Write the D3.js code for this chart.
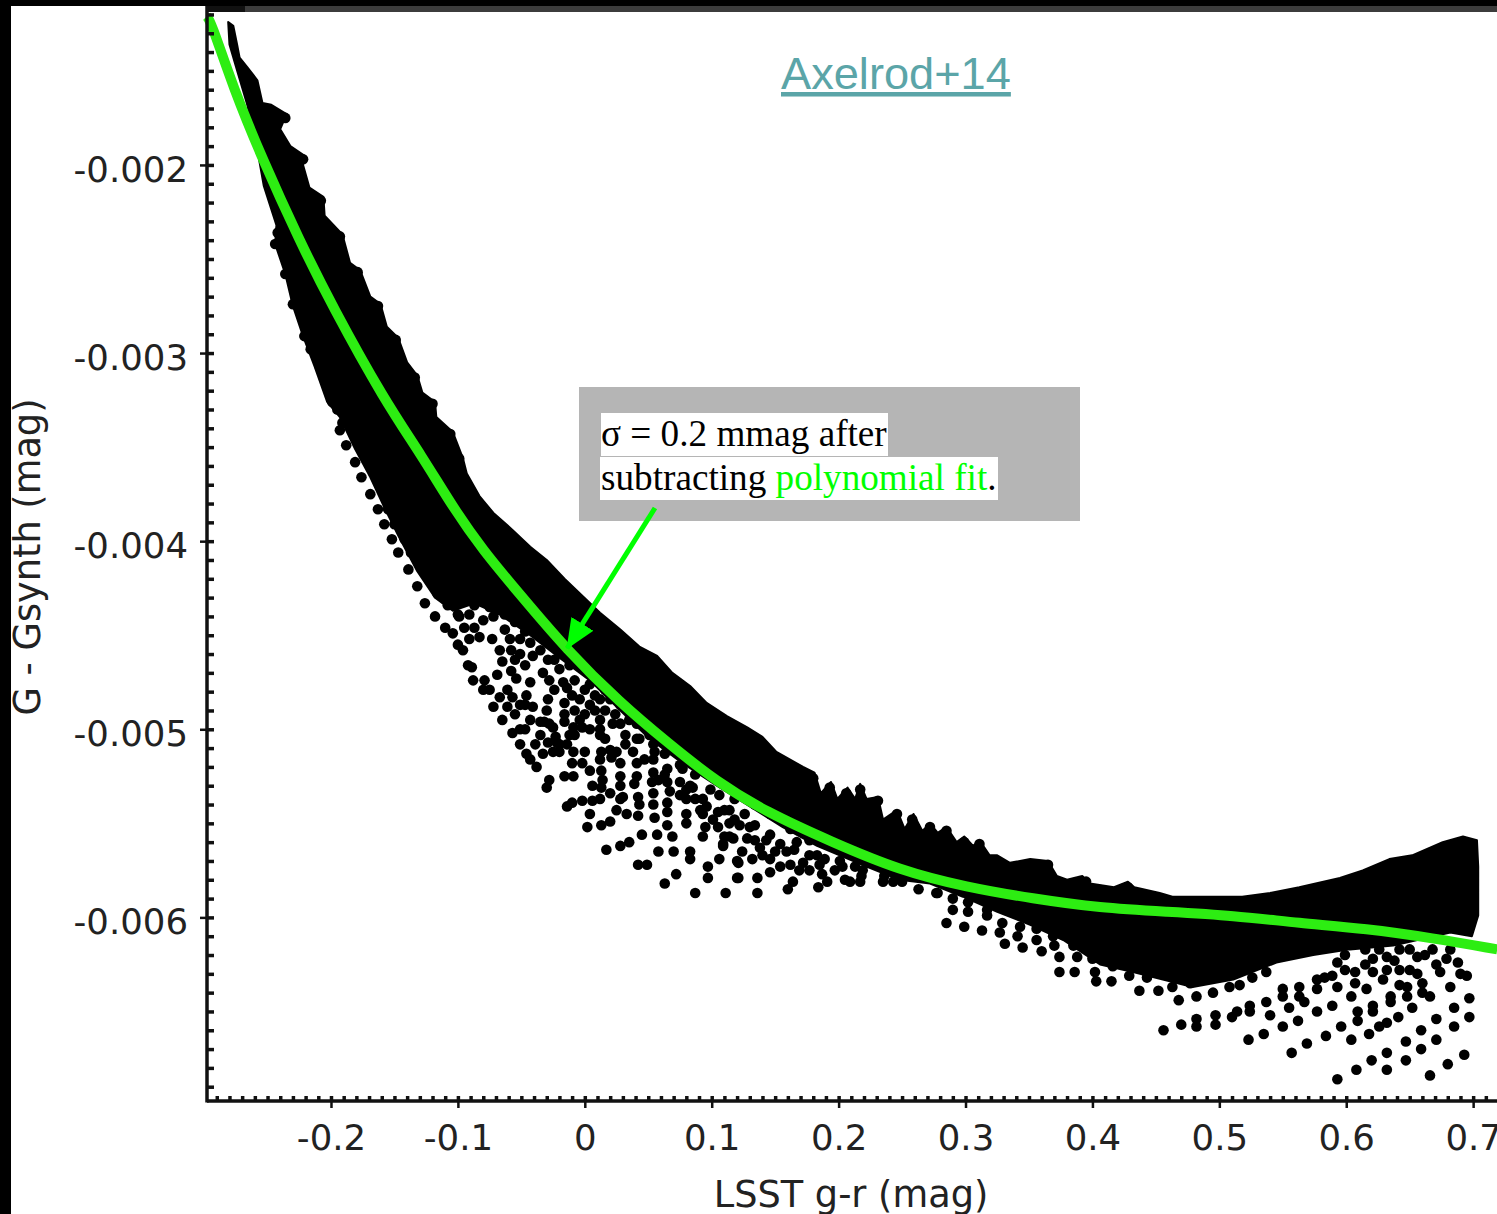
<!DOCTYPE html>
<html>
<head>
<meta charset="utf-8">
<script src="https://cdn.jsdelivr.net/npm/d3@7"></script>
<style>
    html, body { margin: 0; padding: 0; background: #fff; overflow: hidden; }
    svg { display: block; }
    .axis-text { font-family: "DejaVu Sans"; fill: #222; }
    .note { font-family: "Liberation Serif"; font-size: 37.2px; fill: #000; }
</style>
</head>
<body>
<div id="chart"></div>
<script>
// tick values (g-r in mag, residual in mmag so the label is the value / 1000)
const xTicks = [-0.2, -0.1, 0, 0.1, 0.2, 0.3, 0.4, 0.5, 0.6, 0.7];
const xTickLabels = ["-0.2", "-0.1", "0", "0.1", "0.2", "0.3", "0.4", "0.5", "0.6", "0.7"];
const yTicks = [-2, -3, -4, -5, -6];
const yTickLabels = ["-0.002", "-0.003", "-0.004", "-0.005", "-0.006"];

// polynomial fit: [g-r, G-Gsynth mmag]
const fitCurve = [[-0.298,-1.21],[-0.295,-1.23],[-0.277,-1.59],[-0.254,-1.97],[-0.225,-2.40],[-0.199,-2.75],[-0.158,-3.25],[-0.128,-3.55],[-0.104,-3.82],[-0.080,-4.05],[-0.054,-4.26],[-0.014,-4.58],[0.028,-4.86],[0.065,-5.07],[0.104,-5.28],[0.143,-5.44],[0.195,-5.60],[0.248,-5.75],[0.301,-5.84],[0.353,-5.90],[0.406,-5.95],[0.459,-5.97],[0.511,-5.99],[0.563,-6.03],[0.616,-6.06],[0.668,-6.11],[0.719,-6.17]];

// outline of the part of the cloud where stars merge into solid black
const denseUpper = [[-0.281,-1.24],[-0.277,-1.26],[-0.274,-1.36],[-0.272,-1.43],[-0.266,-1.48],[-0.258,-1.55],[-0.254,-1.67],[-0.247,-1.68],[-0.235,-1.73],[-0.240,-1.81],[-0.232,-1.90],[-0.221,-1.95],[-0.222,-2.00],[-0.217,-2.12],[-0.206,-2.17],[-0.205,-2.27],[-0.191,-2.37],[-0.185,-2.52],[-0.177,-2.56],[-0.169,-2.70],[-0.161,-2.74],[-0.156,-2.86],[-0.147,-2.92],[-0.140,-3.05],[-0.132,-3.12],[-0.128,-3.21],[-0.118,-3.26],[-0.117,-3.34],[-0.104,-3.42],[-0.096,-3.56],[-0.093,-3.64],[-0.083,-3.76],[-0.072,-3.85],[-0.057,-3.94],[-0.043,-4.03],[-0.030,-4.10],[-0.016,-4.20],[-0.002,-4.29],[0.012,-4.38],[0.028,-4.47],[0.043,-4.56],[0.057,-4.61],[0.069,-4.70],[0.083,-4.77],[0.096,-4.86],[0.112,-4.93],[0.128,-4.99],[0.140,-5.04],[0.151,-5.12],[0.172,-5.20],[0.181,-5.23],[0.186,-5.34],[0.194,-5.28],[0.199,-5.37],[0.207,-5.31],[0.213,-5.37],[0.217,-5.29],[0.222,-5.37],[0.231,-5.36],[0.235,-5.48],[0.246,-5.43],[0.252,-5.53],[0.259,-5.45],[0.266,-5.54],[0.272,-5.50],[0.278,-5.55],[0.285,-5.52],[0.293,-5.60],[0.299,-5.57],[0.306,-5.62],[0.311,-5.59],[0.319,-5.67],[0.325,-5.67],[0.335,-5.71],[0.351,-5.69],[0.365,-5.70],[0.372,-5.78],[0.380,-5.80],[0.392,-5.78],[0.398,-5.82],[0.417,-5.84],[0.428,-5.81],[0.433,-5.84],[0.453,-5.87],[0.463,-5.89],[0.518,-5.89],[0.540,-5.87],[0.563,-5.84],[0.595,-5.79],[0.613,-5.75],[0.634,-5.69],[0.652,-5.67],[0.676,-5.60],[0.692,-5.57],[0.703,-5.59],[0.704,-5.73],[0.704,-5.99],[0.699,-6.10]];
const denseLower = [[0.682,-6.08],[0.637,-6.15],[0.603,-6.17],[0.574,-6.20],[0.545,-6.24],[0.511,-6.33],[0.479,-6.37],[0.432,-6.29],[0.406,-6.25],[0.377,-6.12],[0.351,-6.04],[0.325,-5.97],[0.298,-5.89],[0.272,-5.82],[0.248,-5.80],[0.222,-5.73],[0.183,-5.62],[0.156,-5.52],[0.130,-5.41],[0.104,-5.30],[0.077,-5.18],[0.051,-5.05],[0.028,-4.90],[0.004,-4.74],[-0.020,-4.62],[-0.043,-4.50],[-0.067,-4.39],[-0.087,-4.33],[-0.104,-4.37],[-0.118,-4.30],[-0.132,-4.16],[-0.147,-3.97],[-0.158,-3.82],[-0.169,-3.66],[-0.181,-3.51],[-0.193,-3.34],[-0.203,-3.26],[-0.213,-3.07],[-0.222,-2.91],[-0.230,-2.75],[-0.236,-2.58],[-0.244,-2.42],[-0.243,-2.32],[-0.253,-2.11],[-0.258,-1.92],[-0.266,-1.68],[-0.273,-1.52],[-0.280,-1.36]];

// single stars that can still be told apart
const edgeNubs = [[-0.236,-1.75],[-0.222,-1.97],[-0.208,-2.19],[-0.193,-2.38],[-0.179,-2.57],[-0.163,-2.75],[-0.149,-2.93],[-0.134,-3.13],[-0.120,-3.27],[-0.106,-3.43],[-0.099,-3.56],[0.180,-5.26],[0.193,-5.31],[0.206,-5.34],[0.217,-5.32],[0.231,-5.38],[0.246,-5.45],[0.258,-5.48],[0.272,-5.52],[0.285,-5.54],[0.299,-5.60],[0.311,-5.61],[0.365,-5.72],[0.395,-5.81],[0.428,-5.84]];
const edgeStars = [[-0.244,-2.42],[-0.242,-2.36],[-0.236,-2.58],[-0.232,-2.52],[-0.230,-2.74],[-0.221,-2.91],[-0.216,-2.98],[-0.209,-3.07],[-0.199,-3.26],[-0.195,-3.30],[-0.191,-3.37],[-0.193,-3.41],[-0.188,-3.49],[-0.181,-3.58],[-0.176,-3.66],[-0.169,-3.75],[-0.163,-3.83],[-0.158,-3.91],[-0.152,-3.99],[-0.147,-4.06],[-0.139,-4.15],[-0.132,-4.24],[-0.126,-4.33],[-0.118,-4.40],[-0.110,-4.46],[-0.104,-4.49],[-0.100,-4.55],[-0.096,-4.58],[-0.092,-4.66],[-0.088,-4.74],[-0.080,-4.79],[-0.072,-4.88],[-0.065,-4.95],[-0.057,-5.02],[-0.051,-5.08],[-0.043,-5.16],[-0.038,-5.20],[-0.137,-4.06],[-0.129,-4.11],[-0.122,-4.19],[-0.116,-4.28],[-0.108,-4.34],[-0.100,-4.39],[-0.091,-4.39],[-0.142,-3.99],[-0.150,-3.91],[-0.155,-3.83]];
const latticeStars = [[-0.099,-4.40],[-0.080,-4.42],[-0.072,-4.40],[-0.063,-4.47],[-0.059,-4.52],[-0.091,-4.52],[-0.083,-4.51],[-0.073,-4.52],[-0.067,-4.58],[-0.065,-4.64],[-0.069,-4.71],[-0.079,-4.74],[-0.089,-4.67],[-0.054,-4.73],[-0.043,-4.75],[-0.057,-4.83],[-0.046,-4.82],[-0.041,-4.88],[-0.030,-4.90],[-0.035,-4.96],[-0.025,-4.99],[-0.016,-4.86],[-0.014,-4.78],[-0.028,-4.74],[-0.033,-4.70],[-0.041,-4.61],[-0.043,-4.54],[-0.051,-4.60],[-0.047,-4.66],[-0.035,-4.58],[-0.024,-4.63],[-0.020,-4.68],[-0.008,-4.74],[-0.004,-4.84],[0.004,-4.87],[-0.004,-4.95],[-0.012,-5.03],[0.004,-5.00],[0.012,-4.95],[0.016,-5.05],[-0.020,-5.08],[0.021,-5.15],[0.032,-5.08],[0.043,-5.05],[0.055,-5.12],[0.016,-4.90],[0.028,-4.97],[0.041,-4.97]];
const latticeStars2 = [[-0.110,-4.31],[-0.102,-4.34],[-0.087,-4.34],[-0.075,-4.35],[-0.063,-4.39],[-0.055,-4.43],[-0.047,-4.48],[-0.051,-4.52],[-0.058,-4.58],[-0.087,-4.46],[-0.095,-4.46],[-0.075,-4.79],[-0.067,-4.83],[-0.061,-4.79],[-0.051,-4.87],[-0.055,-4.92],[-0.043,-4.95],[-0.047,-5.00],[-0.035,-5.03],[-0.039,-5.08],[-0.029,-5.07],[-0.033,-5.13],[-0.023,-5.04],[-0.016,-4.96],[-0.008,-4.90],[0,-4.79],[0.008,-4.82],[0.016,-4.79],[0.012,-4.74],[0.004,-4.66],[-0.004,-4.60],[-0.012,-4.58],[-0.020,-4.52],[-0.028,-4.48],[-0.035,-4.44],[-0.029,-4.84],[-0.024,-4.79],[-0.016,-4.92],[0.008,-4.90],[0.024,-4.92],[0.020,-4.84],[0.032,-4.87],[0.039,-4.91],[0.051,-5.03],[0.063,-5.13],[0.075,-5.19],[0.087,-5.24],[0.099,-5.32],[0.106,-5.35],[0.118,-5.37],[0.126,-5.45],[0.134,-5.51],[0.146,-5.56],[0.154,-5.61],[0.165,-5.64],[0.177,-5.67],[0.189,-5.69],[0.201,-5.70],[0.213,-5.73],[0.041,-5.05],[0.054,-5.08],[0.054,-5.16],[0.065,-5.21],[0.065,-5.28],[0.080,-5.32],[0.080,-5.37],[0.093,-5.37],[0.093,-5.45],[0.105,-5.44],[0.105,-5.52],[0.118,-5.48],[0.128,-5.58],[0.138,-5.63],[0.150,-5.65],[0.054,-5.40],[0.065,-5.51],[0.028,-5.37],[0.043,-5.40],[0.012,-5.37],[0.004,-5.45]];
const latticeStars3 = [[-0.055,-4.63],[-0.058,-4.69],[-0.061,-4.88],[-0.047,-4.87],[-0.046,-5.13],[-0.051,-5.00],[-0.032,-4.96],[-0.029,-4.63],[-0.012,-4.66],[-0.010,-4.82],[-0.017,-4.75],[0,-4.92],[-0.008,-5.03],[0.012,-5.03],[0.020,-5.11],[0.032,-5.03],[0.035,-4.95],[0.047,-4.95],[0.059,-5.03],[0.067,-5.11],[0.047,-5.16],[0.012,-4.84],[0.004,-4.76],[0.024,-4.79],[0.028,-4.87],[0.043,-4.87],[0.051,-4.95],[0.063,-4.97],[0.075,-5.05],[0.087,-5.13],[0.099,-5.19],[0.106,-5.27],[0.122,-5.32],[0.134,-5.40],[0.146,-5.45],[0.162,-5.53],[0.177,-5.59],[0.012,-5.16],[0.058,-5.27],[0.075,-5.35],[0.087,-5.37],[0.110,-5.43],[0.122,-5.51],[0.134,-5.59],[0.146,-5.69],[0.162,-5.72],[0.185,-5.72],[0.205,-5.80]];
const lowerLeftStars = [[-0.028,-4.97],[-0.009,-4.99],[-0.002,-4.99],[0.022,-4.97],[-0.022,-5.07],[-0.014,-5.08],[-0.025,-5.12],[-0.020,-5.12],[-0.009,-5.12],[0.012,-5.00],[0.013,-5.12],[0.025,-5.12],[0.038,-5.12],[0,-5.12],[-0.010,-5.18],[-0.002,-5.18],[0.004,-5.22],[0.013,-5.22],[0.014,-5.27],[0.028,-5.18],[0.028,-5.25],[0.028,-5.30],[0.041,-5.18],[0.041,-5.25],[0.039,-5.29],[0.054,-5.23],[0.053,-5.28],[0.054,-5.34],[-0.028,-5.27],[-0.030,-5.31],[-0.016,-5.25],[-0.009,-5.25],[0.006,-5.30],[0.013,-5.31],[0.020,-5.34],[0.030,-5.36],[0.042,-5.36],[-0.014,-5.41],[-0.010,-5.39],[-0.002,-5.38],[0.006,-5.38],[0.025,-5.43],[0.033,-5.45],[0.042,-5.46],[0.055,-5.47],[0.002,-5.52],[0.013,-5.51],[0.020,-5.49],[0.045,-5.56],[0.057,-5.56],[0.069,-5.57],[0.017,-5.64],[0.028,-5.62],[0.035,-5.60],[0.058,-5.65],[0.070,-5.65],[0.083,-5.65],[0.083,-5.69],[0.042,-5.72],[0.049,-5.72],[0.072,-5.77],[0.063,-5.82],[0.097,-5.73],[0.097,-5.79],[0.106,-5.69],[0.087,-5.87],[0.111,-5.87],[0.120,-5.79],[0.120,-5.70],[0.067,-5.33],[0.065,-5.39],[0.065,-5.44],[0.080,-5.45],[0.080,-5.50],[0.093,-5.57],[0.095,-5.52],[0.109,-5.61],[0.114,-5.57],[0.114,-5.50],[0.075,-5.28],[0.083,-5.30],[0.091,-5.43],[0.101,-5.48],[0.063,-5.24],[0.077,-5.21],[0.085,-5.31]];
const midStars = [[0.136,-5.87],[0.160,-5.85],[0.184,-5.84],[0.191,-5.81],[0.209,-5.81],[0.217,-5.81],[0.235,-5.81],[0.243,-5.81],[0.250,-5.81],[0.263,-5.85],[0.278,-5.87],[0.121,-5.79],[0.136,-5.79],[0.146,-5.76],[0.121,-5.71],[0.132,-5.69],[0.124,-5.65],[0.140,-5.67],[0.154,-5.73],[0.164,-5.81],[0.169,-5.75],[0.177,-5.75],[0.187,-5.77],[0.197,-5.75],[0.203,-5.73],[0.219,-5.75],[0.218,-5.78],[0.110,-5.57],[0.109,-5.62],[0.117,-5.58],[0.130,-5.52],[0.143,-5.59],[0.159,-5.65],[0.172,-5.71],[0.183,-5.67],[0.167,-5.60],[0.096,-5.41],[0.114,-5.43],[0.236,-5.78]];
const lowerMidStars = [[0.285,-6.03],[0.299,-6.05],[0.313,-6.07],[0.327,-6.08],[0.331,-6.14],[0.341,-6.10],[0.345,-6.16],[0.356,-6.12],[0.360,-6.18],[0.370,-6.15],[0.374,-6.21],[0.374,-6.29],[0.386,-6.29],[0.388,-6.21],[0.385,-6.15],[0.400,-6.22],[0.403,-6.34],[0.415,-6.34],[0.402,-6.29],[0.416,-6.26],[0.429,-6.31],[0.437,-6.39],[0.443,-6.32],[0.290,-5.90],[0.290,-5.96],[0.302,-5.92],[0.302,-5.97],[0.317,-5.96],[0.317,-5.99],[0.277,-5.87],[0.329,-6.03],[0.343,-6.05],[0.356,-6.06],[0.369,-6.10],[0.385,-6.10],[0.400,-6.15],[0.415,-6.17],[0.429,-6.22]];
const lowerRightStars = [[0.452,-6.39],[0.459,-6.31],[0.463,-6.37],[0.468,-6.44],[0.474,-6.29],[0.477,-6.35],[0.482,-6.42],[0.490,-6.31],[0.495,-6.40],[0.508,-6.37],[0.516,-6.36],[0.526,-6.32],[0.537,-6.29],[0.456,-6.60],[0.470,-6.57],[0.482,-6.54],[0.482,-6.58],[0.497,-6.52],[0.497,-6.57],[0.510,-6.53],[0.514,-6.50],[0.524,-6.47],[0.524,-6.50],[0.537,-6.45],[0.540,-6.52],[0.550,-6.42],[0.550,-6.38],[0.563,-6.37],[0.563,-6.42],[0.577,-6.33],[0.577,-6.38],[0.593,-6.24],[0.589,-6.31],[0.593,-6.37],[0.607,-6.29],[0.607,-6.35],[0.621,-6.22],[0.621,-6.29],[0.632,-6.21],[0.632,-6.28],[0.629,-6.33],[0.642,-6.17],[0.642,-6.28],[0.656,-6.21],[0.660,-6.35],[0.668,-6.17],[0.679,-6.22],[0.682,-6.37],[0.688,-6.24],[0.695,-6.31],[0.660,-6.40],[0.666,-6.42],[0.616,-6.38],[0.523,-6.65],[0.535,-6.62],[0.550,-6.58],[0.562,-6.55],[0.555,-6.48],[0.567,-6.45],[0.577,-6.50],[0.589,-6.47],[0.604,-6.42],[0.596,-6.58],[0.584,-6.63],[0.569,-6.67],[0.557,-6.72],[0.604,-6.65],[0.618,-6.62],[0.626,-6.58],[0.632,-6.56],[0.641,-6.53],[0.652,-6.48],[0.609,-6.50],[0.609,-6.55],[0.621,-6.47],[0.621,-6.50],[0.635,-6.42],[0.635,-6.45],[0.648,-6.37],[0.648,-6.42],[0.671,-6.54],[0.685,-6.48],[0.697,-6.43],[0.697,-6.53],[0.685,-6.58],[0.659,-6.60],[0.671,-6.65],[0.647,-6.66],[0.659,-6.70],[0.632,-6.72],[0.647,-6.76],[0.620,-6.76],[0.608,-6.81],[0.593,-6.86],[0.632,-6.81],[0.666,-6.84],[0.680,-6.78],[0.693,-6.73],[0.674,-6.29],[0.656,-6.30],[0.642,-6.36],[0.615,-6.17],[0.615,-6.25],[0.626,-6.17],[0.638,-6.23],[0.650,-6.17],[0.650,-6.28],[0.662,-6.20],[0.671,-6.25],[0.682,-6.17],[0.690,-6.30],[0.599,-6.20],[0.599,-6.28],[0.583,-6.32]];

const stars = [].concat(edgeNubs, edgeStars, latticeStars, latticeStars2, latticeStars3, lowerLeftStars, midStars, lowerMidStars, lowerRightStars);

const W = 1497, H = 1214;
const axisLeft = 207, axisBottom = 1101, plotTop = 12;

const svg = d3.select("#chart").append("svg")
    .attr("width", W)
    .attr("height", H);

svg.append("rect").attr("width", W).attr("height", H).attr("fill", "#fff");

const x = d3.scaleLinear().domain([-0.2977, 0.7188]).range([axisLeft, W]);
const y = d3.scaleLinear().domain([-1.187, -6.976]).range([plotTop, axisBottom]);

const line = d3.line().x(d => x(d[0])).y(d => y(d[1]));

// frame pieces that the screenshot cropped in: black left edge and top edge
svg.append("rect").attr("x", 0).attr("y", 0).attr("width", 11).attr("height", H).attr("fill", "#000");
svg.append("rect").attr("x", 0).attr("y", 0).attr("width", W).attr("height", 6).attr("fill", "#000");
svg.append("rect").attr("x", 245).attr("y", 6).attr("width", W - 245).attr("height", 6).attr("fill", "#3c3c3c");
svg.append("rect").attr("x", 207).attr("y", 6).attr("width", 38).attr("height", 6).attr("fill", "#111");

// stars
svg.append("g").selectAll("circle")
    .data(stars)
    .enter()
    .append("circle")
    .attr("cx", d => x(d[0]))
    .attr("cy", d => y(d[1]))
    .attr("r", 5.3)
    .attr("fill", "#000");

svg.append("path")
    .attr("d", line(denseUpper.concat(denseLower)) + "Z")
    .attr("fill", "#000")
    .attr("stroke", "#000")
    .attr("stroke-linejoin", "round")
    .attr("stroke-width", 2);

// fit
svg.append("path")
    .attr("d", d3.line().x(d => x(d[0])).y(d => y(d[1])).curve(d3.curveBasis)(fitCurve))
    .attr("fill", "none")
    .attr("stroke", "#2ded12")
    .attr("stroke-width", 10);

// axes
const yMinor = d3.range(-1.2, -6.95, -0.1).map(d => +d.toFixed(1));
const xMinor = d3.range(-0.29, 0.72, 0.01).map(d => +d.toFixed(2));

const gyMinor = svg.append("g")
    .attr("transform", "translate(" + axisLeft + ",0)")
    .call(d3.axisRight(y).tickValues(yMinor).tickSize(7).tickFormat(""));
const gxMinor = svg.append("g")
    .attr("transform", "translate(0," + axisBottom + ")")
    .call(d3.axisTop(x).tickValues(xMinor).tickSize(5).tickFormat(""));
const gy = svg.append("g")
    .attr("transform", "translate(" + axisLeft + ",0)")
    .call(d3.axisLeft(y).tickValues(yTicks).tickSize(7).tickPadding(12).tickFormat((d, i) => yTickLabels[i]));
const gx = svg.append("g")
    .attr("transform", "translate(0," + axisBottom + ")")
    .call(d3.axisBottom(x).tickValues(xTicks).tickSize(7).tickPadding(17).tickFormat((d, i) => xTickLabels[i]));

[gyMinor, gxMinor].forEach(g => {
    g.select(".domain").remove();
    g.selectAll("line").attr("stroke", "#111").attr("stroke-width", 3.5);
});
[gy, gx].forEach(g => {
    g.select(".domain").remove();
    g.selectAll("line").attr("stroke", "#111").attr("stroke-width", 2.5);
    g.selectAll("text").attr("class", "axis-text").style("font-size", "35.5px");
});
gy.selectAll("text").attr("dy", "0.46em");

svg.append("line").attr("x1", axisLeft).attr("x2", axisLeft).attr("y1", 6).attr("y2", axisBottom + 1.5)
    .attr("stroke", "#111").attr("stroke-width", 3.5);
svg.append("line").attr("x1", axisLeft).attr("x2", W).attr("y1", axisBottom).attr("y2", axisBottom)
    .attr("stroke", "#111").attr("stroke-width", 3.5);

// axis titles
svg.append("text")
    .attr("class", "axis-text")
    .attr("x", 851)
    .attr("y", 1207)
    .attr("text-anchor", "middle")
    .style("font-size", "36.7px")
    .text("LSST g-r (mag)");

svg.append("text")
    .attr("class", "axis-text")
    .attr("transform", "translate(40,557) rotate(-90)")
    .attr("text-anchor", "middle")
    .style("font-size", "36.7px")
    .text("G - Gsynth (mag)");

// Axelrod+14 link
svg.append("text")
    .attr("x", 781)
    .attr("y", 89)
    .attr("fill", "#5ba5a8")
    .style("font-family", "Liberation Sans")
    .style("font-size", "45.2px")
    .style("text-decoration", "underline")
    .text("Axelrod+14");

// annotation box
svg.append("rect").attr("x", 579).attr("y", 387).attr("width", 501).attr("height", 134).attr("fill", "#b5b5b5");
svg.append("rect").attr("x", 601).attr("y", 413).attr("width", 287).attr("height", 43).attr("fill", "#fff");
svg.append("rect").attr("x", 600).attr("y", 457).attr("width", 398).attr("height", 43).attr("fill", "#fff");

svg.append("text").attr("class", "note").attr("x", 601).attr("y", 446).text("σ = 0.2 mmag after");
const second = svg.append("text").attr("class", "note").attr("x", 601).attr("y", 490);
second.append("tspan").text("subtracting ");
second.append("tspan").attr("fill", "#00ff00").text("polynomial fit");
second.append("tspan").text(".");

// arrow from the box to the fit
svg.append("defs").append("marker")
    .attr("id", "head")
    .attr("markerUnits", "userSpaceOnUse")
    .attr("markerWidth", 32)
    .attr("markerHeight", 30)
    .attr("refX", 29)
    .attr("refY", 13)
    .attr("orient", "auto")
    .append("path")
    .attr("d", "M0,0L30,13L0,26Z")
    .attr("fill", "#00ff00");

svg.append("line")
    .attr("x1", 655).attr("y1", 508)
    .attr("x2", x(-0.014)).attr("y2", y(-4.57))
    .attr("stroke", "#00ff00")
    .attr("stroke-width", 5)
    .attr("marker-end", "url(#head)");
</script>
</body>
</html>
